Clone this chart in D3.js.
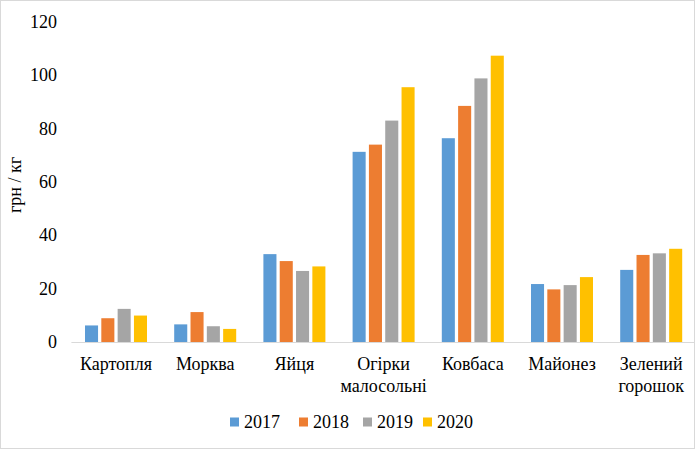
<!DOCTYPE html>
<html><head><meta charset="utf-8">
<script src="https://cdn.jsdelivr.net/npm/d3@7"></script>
<style>body{margin:0;background:#fff}svg{display:block}</style>
</head><body>
<svg id="c" width="695" height="450"></svg>
<script>
const categories = [["Картопля"],["Морква"],["Яйця"],["Огірки","малосольні"],["Ковбаса"],["Майонез"],["Зелений","горошок"]];
const years = ["2017","2018","2019","2020"];
const v2017 = [6.2, 6.6, 32.9, 71.2, 76.3, 21.7, 27.0];
const v2018 = [8.9, 11.2, 30.3, 73.9, 88.4, 19.7, 32.6];
const v2019 = [12.4, 5.9, 26.6, 82.9, 98.7, 21.3, 33.2];
const v2020 = [9.9, 4.9, 28.3, 95.4, 107.2, 24.3, 34.9];
const yTicks = [0,20,40,60,80,100,120];
const colors = ["#5B9BD5","#ED7D31","#A5A5A5","#FFC000"];
const series = [v2017, v2018, v2019, v2020];

(function(){
const svg = d3.select("#c");
const F = '"Liberation Serif"';
const styleText = sel => sel.style("font-family",F).style("font-size","18px").style("fill","#000");
svg.append("rect").attr("x",0.5).attr("y",0.5).attr("width",694).attr("height",448)
  .attr("fill","#fff").attr("stroke","#D9D9D9");

const pL = 71.4, pR = 695.8, pT = 21.5, pB = 342;
const gw = 62;
const x = d3.scaleBand().domain(d3.range(categories.length)).range([pL,pR]);
const y = d3.scaleLinear().domain([0,120]).range([pB,pT]);
const xs = d3.scaleBand().domain(d3.range(4)).range([0, gw]).paddingInner(0.2);
const groupOffset = (x.bandwidth()-gw)/2;

svg.append("g").selectAll("text").data(yTicks).join("text")
  .attr("x",57).attr("y",d=>y(d)).attr("dy","0.35em")
  .attr("text-anchor","end").call(styleText)
  .text(d=>d);

svg.append("text").attr("transform","translate(15,185) rotate(-90)")
  .attr("text-anchor","middle").attr("dy","0.35em").call(styleText)
  .text("грн / кг");

series.forEach((s,si)=>{
  svg.append("g").selectAll("rect").data(s).join("rect")
    .attr("x",(d,i)=>x(i)+groupOffset+xs(si))
    .attr("y",d=>y(d)).attr("width",xs.bandwidth()).attr("height",d=>pB-y(d))
    .attr("fill",colors[si]);
});

svg.append("line").attr("x1",pL).attr("x2",pR).attr("y1",pB+0.5).attr("y2",pB+0.5)
  .attr("stroke","#D9D9D9").attr("stroke-width",1);

const cl = svg.append("g").selectAll("text").data(categories).join("text")
  .attr("text-anchor","middle").call(styleText);
cl.each(function(d,i){
  const t = d3.select(this);
  d.forEach((line,li)=>{
    t.append("tspan").attr("x",x(i)+x.bandwidth()/2).attr("y",370+li*21.5).text(line);
  });
});

const lx = [230, 299, 363, 423];
const lg = svg.append("g").selectAll("g").data(years).join("g")
  .attr("transform",(d,i)=>`translate(${lx[i]},422)`);
lg.append("rect").attr("x",0).attr("y",-4.5).attr("width",9).attr("height",9).attr("fill",(d,i)=>colors[i]);
lg.append("text").attr("x",14).attr("y",0).attr("dy","0.35em").call(styleText).text(d=>d);
})();
</script>
</body></html>
